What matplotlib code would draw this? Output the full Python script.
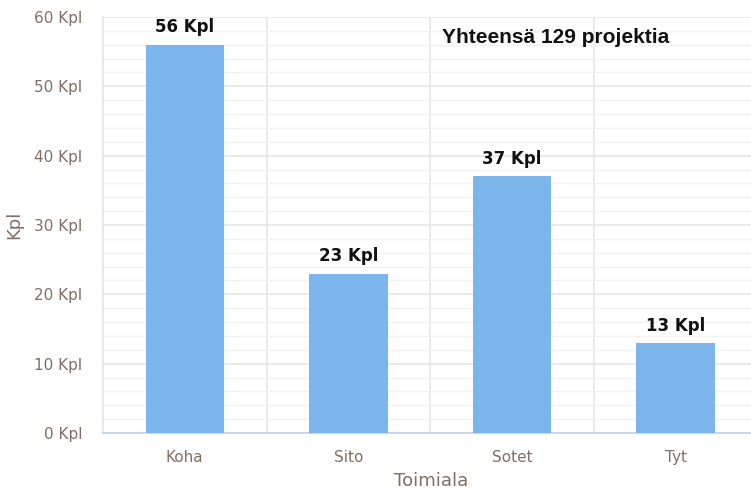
import matplotlib.pyplot as plt
from matplotlib.ticker import MultipleLocator, FuncFormatter

categories = ["Koha", "Sito", "Sotet", "Tyt"]
counts = [56, 23, 37, 13]
total_text = "Yhteensä 129 projektia"

fig = plt.figure(figsize=(7.51, 4.9), dpi=100)
ax = fig.add_axes([103 / 751, 57 / 490, 656 / 751, 416 / 490])

x = range(len(categories))
bars = ax.bar(x, counts, width=0.48, color="#7cb5ec", zorder=3)

ax.set_xlim(-0.5, 3.51)
ax.set_ylim(0, 60)
ax.yaxis.set_major_locator(MultipleLocator(10))
ax.yaxis.set_minor_locator(MultipleLocator(2))
ax.yaxis.set_major_formatter(FuncFormatter(lambda v, p: f"{int(v)} Kpl"))
ax.set_xticks(list(x))
ax.set_xticklabels(categories)
ax.set_xticks([0.5, 1.5, 2.5], minor=True)

ax.grid(True, which="major", axis="y", color="#e6e6e6", linewidth=1.2, zorder=0)
ax.grid(True, which="minor", axis="y", color="#f2f2f2", linewidth=1, zorder=0)
ax.grid(True, which="minor", axis="x", color="#e6e6e6", linewidth=1.2, zorder=0)

for s in ["top", "right", "left"]:
    ax.spines[s].set_visible(False)
ax.spines["bottom"].set_color("#ccd6eb")
ax.spines["bottom"].set_linewidth(1.5)
ax.plot([-0.5, -0.5], [0, 60], color="#e6e6e6", lw=1.2, zorder=1, clip_on=False)

lab_color = "#806f62"
ax.tick_params(axis="y", which="both", length=0, labelsize=11, labelcolor=lab_color, pad=15)
ax.tick_params(axis="x", which="both", length=0, labelsize=11, labelcolor=lab_color, pad=12)

ax.set_ylabel("Kpl", fontsize=13, color=lab_color, labelpad=8)
ax.set_xlabel("Toimiala", fontsize=13, color=lab_color, labelpad=5)

for b, v in zip(bars, counts):
    ax.text(b.get_x() + b.get_width() / 2, v + 1.2, f"{v} Kpl", ha="center", va="bottom",
            fontsize=12, fontweight="bold", color="#111111", zorder=4)

ax.text(1.57, 57.1, total_text, ha="left", va="center", fontsize=15, fontweight="bold",
        family="Liberation Sans", color="#111111", zorder=4)

fig.savefig("out.png", dpi=100)
